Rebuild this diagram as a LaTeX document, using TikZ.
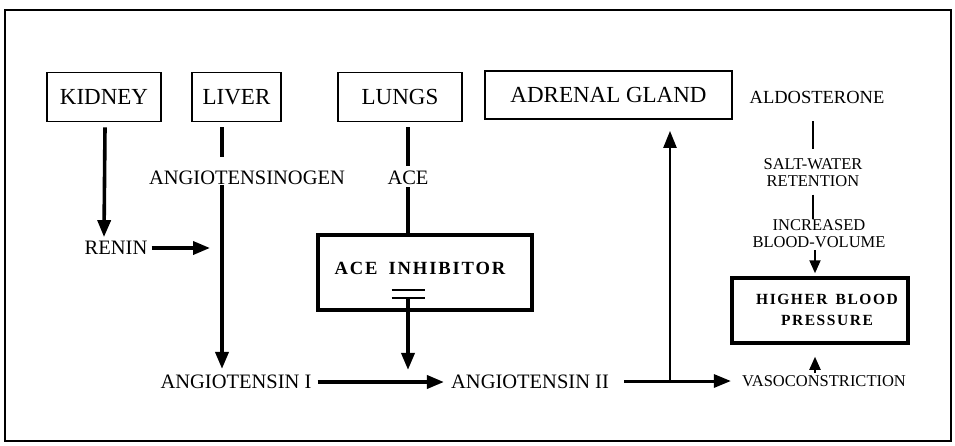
\documentclass[tikz,border=0pt]{standalone}
\usepackage{fontspec}
\setmainfont{Liberation Serif}
\newfontfamily\spacedbold[LetterSpace=10]{Liberation Serif Bold}
\usetikzlibrary{arrows.meta}
\begin{document}
\begin{tikzpicture}[x=1pt,y=-1pt,
  organ/.style={draw,line width=1.8pt,minimum height=49pt,inner sep=0pt,
    font=\fontsize{23}{23}\selectfont},
  bigbox/.style={draw,line width=3.5pt,inner sep=0pt},
  lbl/.style={font=\fontsize{20.5}{22}\selectfont,inner sep=1pt},
  small/.style={font=\fontsize{16.5}{17}\selectfont,inner sep=1pt,align=center},
  arr/.style={line width=3.6pt,-{Triangle[length=17pt,width=13pt]}},
  arrsm/.style={line width=2pt,-{Triangle[length=13pt,width=11pt]}},
  ln/.style={line width=3.4pt},
  thinln/.style={line width=1.8pt}]
\useasboundingbox (0,0) rectangle (955,445);
\draw[line width=1.5pt] (5,10) rectangle (951,441);

% organ boxes
\node[organ,minimum width=114pt] (kidney) at (104,97) {KIDNEY};
\node[organ,minimum width=89pt] (liver) at (236.5,97) {LIVER};
\node[organ,minimum width=124pt] (lungs) at (400,97) {LUNGS};
\node[organ,minimum width=247pt,minimum height=48pt] (adrenal) at (608.5,95) {ADRENAL GLAND};

% labels
\node[lbl] (renin) at (116,248) {RENIN};
\node[lbl] (agen) at (247,178) {ANGIOTENSINOGEN};
\node[lbl] (ace) at (408,178) {ACE};
\node[lbl] (ang1) at (236,382) {ANGIOTENSIN I};
\node[lbl] (ang2) at (530,382) {ANGIOTENSIN II};
\node[font=\fontsize{18.5}{20}\selectfont,inner sep=1pt] (aldo) at (817,97) {ALDOSTERONE};
\node[small] (salt) at (813,172.5) {SALT-WATER\\RETENTION};
\node[small] (incr) at (819,234) {INCREASED\\BLOOD-VOLUME};
\node[small] (vaso) at (824,381) {VASOCONSTRICTION};

% ACE inhibitor box
\node[bigbox,minimum width=214pt,minimum height=75pt] (inhib) at (425,272.5) {};
\node[inner sep=0pt,font=\spacedbold\fontsize{18.6}{20}\selectfont] (inhibtxt) at (420,268) {ACE\hspace{11pt}INHIBITOR};
\coordinate (eqc) at (408,294);
\draw[line width=2.6pt] ([xshift=-16.5pt,yshift=4pt]eqc) -- ([xshift=16.5pt,yshift=4pt]eqc);
\draw[line width=2.6pt] ([xshift=-16.5pt,yshift=-4pt]eqc) -- ([xshift=16.5pt,yshift=-4pt]eqc);

% Higher blood pressure box
\node[bigbox,minimum width=176pt,minimum height=65pt] (hbp) at (820,310.5) {};
\node[inner sep=0pt,align=center,font=\spacedbold\fontsize{15.5}{21}\selectfont] (hbptxt) at (827,310) {HIGHER\hspace{8pt}BLOOD\\PRESSURE};

% junction coordinates
\coordinate (lx) at (222,0);
\coordinate (kx) at (105,0);
\coordinate (rj) at (222,248);
\coordinate (a2j) at (670,381);
\coordinate (vx) at (815,0);

% connectors (yshift is in page direction: negative = downwards)
\draw[arr] ([yshift=-5pt]kidney.south -| kx) -- ([yshift=3pt]kidney.south |- renin.north);
\draw[arr,shorten <=3pt,shorten >=12pt] (renin.east) -- (rj);
\draw[ln] ([yshift=-5pt]liver.south -| lx) -- ([yshift=13pt]agen.north -| lx);
\draw[arr] ([yshift=1pt]agen.south -| lx) -- ([yshift=5pt]ang1.north -| lx);
\draw[ln] ([yshift=-5pt]lungs.south -| ace) -- ([yshift=4pt]ace.north);
\draw[ln] ([yshift=-1pt]ace.south) -- (inhib.north -| ace);
\draw[arr] ([yshift=-4pt]eqc) -- ([yshift=4pt]ang2.north -| eqc);
\draw[arr,shorten <=5pt,shorten >=6pt] (ang1.east) -- (ang2.west);
\draw[arr,line width=3pt,shorten <=14pt,shorten >=10pt] (ang2.east |- a2j) -- (vaso.west |- a2j);
\draw[arr,line width=2.4pt,shorten >=11pt] (a2j) -- (adrenal.south -| a2j);
\draw[thinln] ([yshift=-17pt]aldo.south -| salt) -- ([yshift=8pt]salt.north);
\draw[thinln] ([yshift=-7pt]salt.south) -- ([yshift=0pt]incr.north -| salt);
\draw[arrsm] ([yshift=-1pt]incr.south -| vx) -- ([yshift=3pt]hbp.north -| vx);
\draw[arrsm] ([yshift=1pt]vaso.north -| vx) -- ([yshift=-12pt]hbp.south -| vx);
\end{tikzpicture}
\end{document}
